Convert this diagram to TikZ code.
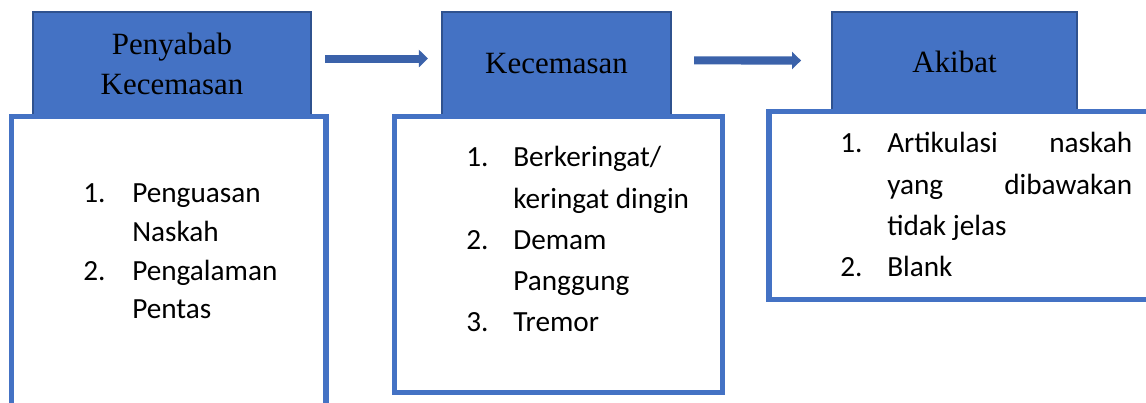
\documentclass[tikz,border=0pt]{standalone}
\usepackage{fontspec}
\setmainfont{Liberation Serif}
\newfontfamily\bodyfont{Carlito}
\usetikzlibrary{arrows.meta}
\definecolor{headfill}{HTML}{4472C4}
\definecolor{headline}{HTML}{2F528F}
\definecolor{boxline}{HTML}{4472C4}
\definecolor{flowblue}{HTML}{3B62AA}
\tikzset{
  headbox/.style={draw=headline, fill=headfill, line width=1.1pt, inner sep=0pt, outer sep=0pt,
                  align=center, font=\fontsize{22}{28.5}\selectfont},
  listbox/.style={draw=boxline, fill=white, line width=3.9pt, inner sep=0pt, outer sep=0pt, anchor=north west},
  items/.style={anchor=base west, inner sep=0pt, font={\bodyfont\fontsize{20.8}{#1}\selectfont}},
  flow/.style={-{Triangle[length=6.4pt, width=12.1pt]}, draw=flowblue, line width=5.7pt},
}

\begin{document}
\begin{tikzpicture}[x=0.25mm, y=-0.25mm]
\useasboundingbox (0,0) rectangle (1146,403);
\clip (0,0) rectangle (1146,403);

% --- kepala kotak ---
\node[headbox, minimum width=69.5mm, minimum height=26mm] (h1) at (172,64) {Penyabab\\Kecemasan};
\node[headbox, minimum width=57.25mm, minimum height=26mm] (h2) at (556.5,64) {Kecemasan};
\node[headbox, minimum width=61.25mm, minimum height=24.75mm] (h3) at (954.5,61.5) {Akibat};

% --- kotak isi ---
\node[listbox, minimum width=78.6mm, minimum height=76mm] (b1) at (11.75,116.75) {};
\node[listbox, minimum width=81.9mm, minimum height=68.9mm] (b2) at (394.75,116.75) {};
\node[listbox, minimum width=97.8mm, minimum height=46.9mm] (b3) at (768.75,111.75) {};

% --- daftar ---
\node[items=27.4] (t1) at (83,203) {\begin{tabular}[t]{@{}p{12.25mm}@{}l@{}}
  1. & Penguasan\\ & Naskah\\ 2. & Pengalaman\\ & Pentas
\end{tabular}};
\node[items=29.2] (t2) at (466,167) {\begin{tabular}[t]{@{}p{11.75mm}@{}l@{}}
  1. & Berkeringat/\\ & keringat dingin\\ 2. & Demam\\ & Panggung\\ 3. & Tremor
\end{tabular}};
\node[items=29.2] (t3) at (840,153) {\begin{tabular}[t]{@{}p{11.75mm}@{}l@{}}
  1. & \hbox to 61.25mm{Artikulasi\hfill naskah}\\ & \hbox to 61.25mm{yang\hfill dibawakan}\\ & tidak jelas\\ 2. & Blank
\end{tabular}};

% --- panah ---
\draw[flow, shorten <=10pt, shorten >=10pt] ([yshift=3.9pt]h1.east) -- ([yshift=3.9pt]h2.west);
\draw[flow, shorten <=16.4pt, shorten >=22pt] ([yshift=2.5pt]h2.east) -- ([yshift=0.7pt]h3.west);
\end{tikzpicture}
\end{document}
